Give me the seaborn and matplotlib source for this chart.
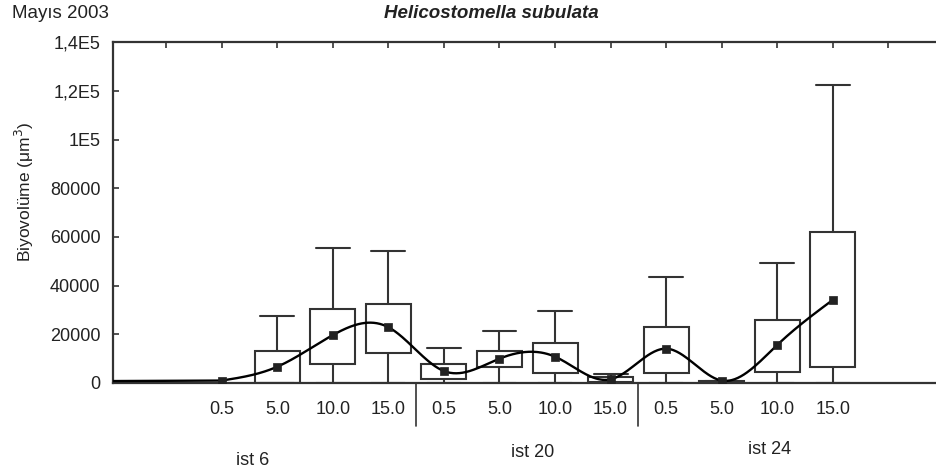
import numpy as np
import pandas as pd
import matplotlib
matplotlib.use("Agg")
import matplotlib.pyplot as plt
import matplotlib.transforms as mtransforms
from matplotlib.ticker import FuncFormatter
import seaborn as sns

# ---------------- data ----------------
stations = ["ist 6", "ist 20", "ist 24"]
depths = ["0.5", "5.0", "10.0", "15.0"]
station_of = ["ist 6"] * 4 + ["ist 20"] * 4 + ["ist 24"] * 4
depth_of = depths * 3
means = [1000, 6700, 19700, 22900, 4900, 10000, 10800, 1500, 14100, 1000, 15600, 34100]
box_lo = [np.nan, 0, 7800, 12400, 1500, 6700, 4200, 300, 4200, 0, 4600, 6700]
box_hi = [np.nan, 13300, 30200, 32400, 7700, 13300, 16300, 2600, 23100, 1000, 25900, 62100]
whisk_lo = [np.nan, 0, 0, 0, 0, 0, 0, 0, 0, 0, 0, 0]
whisk_hi = [np.nan, 27500, 55300, 54300, 14200, 21200, 29700, 3700, 43400, 1000, 49100, 122300]
yticks = [0, 20000, 40000, 60000, 80000, 100000, 120000, 140000]
ytick_labels = ["0", "20000", "40000", "60000", "80000", "1E5", "1,2E5", "1,4E5"]

# ---------------- build a table for seaborn's boxplot ----------------
rows = []
for i in range(len(means)):
    if np.isnan(box_lo[i]):
        continue
    for v in (whisk_lo[i], box_lo[i], means[i], box_hi[i], whisk_hi[i]):
        rows.append({"pos": i, "value": v})
df = pd.DataFrame(rows)
pos = np.arange(len(means))

sns.set_style("ticks")
plt.rcParams["font.family"] = ["Liberation Sans", "DejaVu Sans"]

fig = plt.figure(figsize=(9.36, 4.74), dpi=100)
ax = fig.add_axes([0.1207, 0.192, 0.8793, 0.719])

edge = "#333333"
sns.boxplot(
    data=df, x="pos", y="value", native_scale=True, whis=(0, 100),
    width=0.81, color="white", linecolor=edge, linewidth=1.5,
    showfliers=False, medianprops={"linewidth": 0, "visible": False},
    capwidths=0.61, ax=ax, zorder=2,
)


# natural cubic spline through the marker values (for the smooth curve)
def natural_spline(x, y, xs):
    n = len(x)
    h = np.diff(x)
    A = np.zeros((n, n))
    b = np.zeros(n)
    A[0, 0] = A[-1, -1] = 1
    for k in range(1, n - 1):
        A[k, k - 1] = h[k - 1]
        A[k, k] = 2 * (h[k - 1] + h[k])
        A[k, k + 1] = h[k]
        b[k] = 6 * ((y[k + 1] - y[k]) / h[k] - (y[k] - y[k - 1]) / h[k - 1])
    M = np.linalg.solve(A, b)
    out = np.empty_like(xs)
    for j, t in enumerate(xs):
        k = min(max(np.searchsorted(x, t) - 1, 0), n - 2)
        a = x[k + 1] - t
        c = t - x[k]
        out[j] = (M[k] * a ** 3 + M[k + 1] * c ** 3) / (6 * h[k]) \
            + (y[k] / h[k] - M[k] * h[k] / 6) * a \
            + (y[k + 1] / h[k] - M[k + 1] * h[k] / 6) * c
    return out


xs = np.linspace(pos[0], pos[-1], 600)
ys = natural_spline(pos.astype(float), np.array(means, float), xs)
xlim = (-1.96, 12.86)
xs = np.concatenate([[xlim[0]], xs])
ys = np.concatenate([[means[0] * 0.8], ys])
ax.plot(xs, ys, color="black", lw=1.7, zorder=4, solid_capstyle="butt")

sns.scatterplot(x=pos, y=means, marker="s", s=38, color="#222222",
                edgecolor="#222222", linewidth=0.5, ax=ax, zorder=5)

# ---------------- axes styling ----------------
ax.set_xlim(*xlim)
ax.set_ylim(0, 140000)
ax.set_xticks(np.arange(-1, 13))
ax.set_xticklabels([""] + depth_of + [""])
ax.set_yticks(yticks)
ax.yaxis.set_major_formatter(FuncFormatter(lambda v, p: ytick_labels[yticks.index(int(round(v)))] if int(round(v)) in yticks else ""))
ax.tick_params(axis="x", bottom=False, top=True, direction="in", length=4,
               width=1.2, color=edge, pad=13, labelsize=13, labelcolor="#222222")
ax.tick_params(axis="y", left=True, direction="in", length=4, width=1.2,
               color=edge, pad=9, labelsize=13, labelcolor="#222222")
ax.set_xlabel("")
ax.set_ylabel("Biyovolüme (μm$^3$)", fontsize=12.5, color="#222222")
ax.yaxis.set_label_coords(-0.094, 0.56)
for side in ("left", "top", "bottom"):
    ax.spines[side].set_color(edge)
    ax.spines[side].set_linewidth(1.6)
ax.spines["right"].set_visible(False)

# group separators and station labels under the axis
trans = mtransforms.blended_transform_factory(ax.transData, ax.transAxes)
for xsep in (3.5, 7.5):
    ax.plot([xsep, xsep], [0, -0.125], transform=trans, color=edge, lw=1.2, clip_on=False)
for label, xc, yc in zip(stations, (0.56, 5.59, 9.87), (-0.226, -0.205, -0.194)):
    ax.text(xc, yc, label, transform=trans, ha="center", va="center",
            fontsize=13, color="#222222")

fig.text(12 / 936, 1 - 13 / 474, "Mayıs 2003", ha="left", va="center",
         fontsize=13.5, color="#222222")
fig.text(491 / 936, 1 - 13 / 474, "Helicostomella subulata", ha="center", va="center",
         fontsize=13.5, fontweight="bold", fontstyle="italic", color="#222222")

fig.savefig("out.png", dpi=100)
